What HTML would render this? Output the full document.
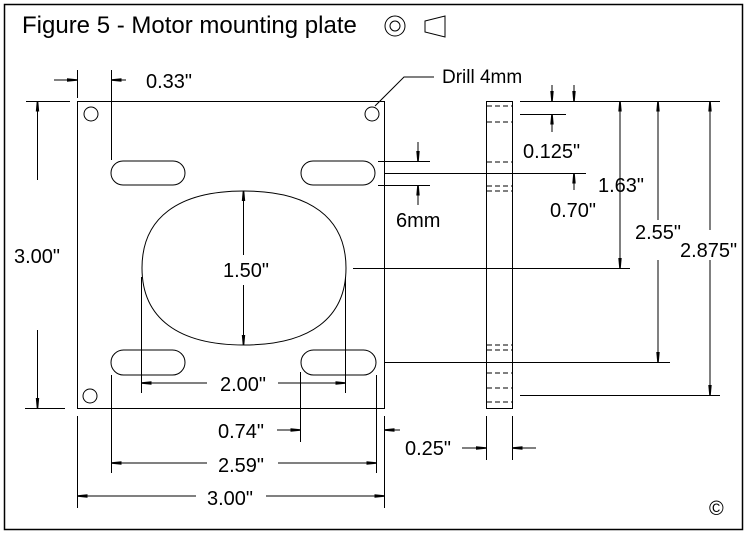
<!DOCTYPE html>
<html><head><style>body{margin:0;background:#fff}svg{display:block}text{font-family:"Liberation Sans",sans-serif;fill:#000}</style></head><body>
<svg width="748" height="535" viewBox="0 0 748 535" xmlns="http://www.w3.org/2000/svg">
<defs>
<marker id="a" viewBox="0 0 10 4" refX="10" refY="2" markerWidth="10" markerHeight="4" markerUnits="userSpaceOnUse" orient="auto-start-reverse"><path d="M0,0.3L10,1.2L10,2.8L0,3.7z"/></marker>
</defs>
<rect x="4.5" y="4.5" width="738" height="525" fill="none" stroke="#000" stroke-width="1.5"/>
<text x="22" y="33" font-size="24">Figure 5 - Motor mounting plate</text>
<circle cx="395" cy="26" r="10" fill="none" stroke="#000"/><circle cx="395" cy="26" r="5" fill="none" stroke="#000"/>
<path d="M425,21L445,16L445,37L425,32Z" fill="none" stroke="#000"/>
<g fill="none" stroke="#000" stroke-width="1">
<rect x="77.5" y="101.5" width="307" height="307"/>
<circle cx="91" cy="114" r="7"/><circle cx="372" cy="114" r="7"/><circle cx="90" cy="396" r="7"/>
<rect x="111" y="161" width="74" height="24" rx="12"/>
<rect x="301" y="161" width="74" height="24" rx="12"/>
<rect x="111" y="350" width="74" height="25" rx="12.5"/>
<rect x="301" y="350" width="75" height="25" rx="12.5"/>
<path d="M244,191C310,191 346,218 346,268C346,318 310,345 244,345C178,345 142,318 142,268C142,218 178,191 244,191Z"/>
<rect x="486.5" y="101.5" width="26" height="307"/>
<g stroke-dasharray="5,3"><path d="M487,106H512M487,122H512M487,162H512M487,186H512M487,191H512M487,345H512M487,350H512M487,373H512M487,388H512M487,402H512"/></g>
<path d="M375,106L404,77H434"/>
<path d="M26,101.5H70M25,408.5H65M77.5,70V98M111.5,70V160"/>
<path d="M520,101.5H720M520,114.5H566M385,173.5H586M378,161.5H430M378,185.5H430M353,268.5H630M385,362.5H670M520,395.5H720"/>
<path d="M77.5,416V508M384.5,416V508M111.5,375V473M376.5,375V473M300.5,372V442M141.5,277V393M345.5,277V393M486.5,416V460M512.5,416V460"/>
<g marker-end="url(#a)">
<path d="M37.5,180V101.5"/><path d="M37.5,330V408"/>
<path d="M54,80H77"/><path d="M126,80H111.5"/>
<path d="M418,142V161"/><path d="M418,205V185.5"/>
<path d="M552,85V101"/><path d="M574,85V101"/><path d="M552,132V114.5"/>
<path d="M574,190V173.5"/>
<path d="M620,180V101.5"/><path d="M620,175V268"/>
<path d="M658,220V101.5"/><path d="M658,260V362"/>
<path d="M710,230V101.5"/><path d="M710,260V395"/>
<path d="M243.5,255V191"/><path d="M243.5,285V345"/>
<path d="M207,383H141.5"/><path d="M278,383H345.5"/>
<path d="M277,430H300.5"/><path d="M400,430H384.5"/>
<path d="M207,463H111.5"/><path d="M278,463H376.5"/>
<path d="M196,496H77.5"/><path d="M266,496H384.5"/>
<path d="M462,448H486"/><path d="M536,448H512.5"/>
</g>
</g>
<g font-size="20">
<text x="146" y="88">0.33"</text>
<text x="442" y="83" font-size="19">Drill 4mm</text>
<text x="396" y="227">6mm</text>
<text x="523" y="158">0.125"</text>
<text x="550" y="217">0.70"</text>
<text x="598" y="192">1.63"</text>
<text x="635" y="239">2.55"</text>
<text x="680" y="257">2.875"</text>
<text x="14" y="263">3.00"</text>
<text x="223" y="277">1.50"</text>
<text x="220" y="391">2.00"</text>
<text x="218" y="438">0.74"</text>
<text x="218" y="472">2.59"</text>
<text x="207" y="505">3.00"</text>
<text x="405" y="455">0.25"</text>
<text x="709" y="515">©</text>
</g>
</svg>
</body></html>
